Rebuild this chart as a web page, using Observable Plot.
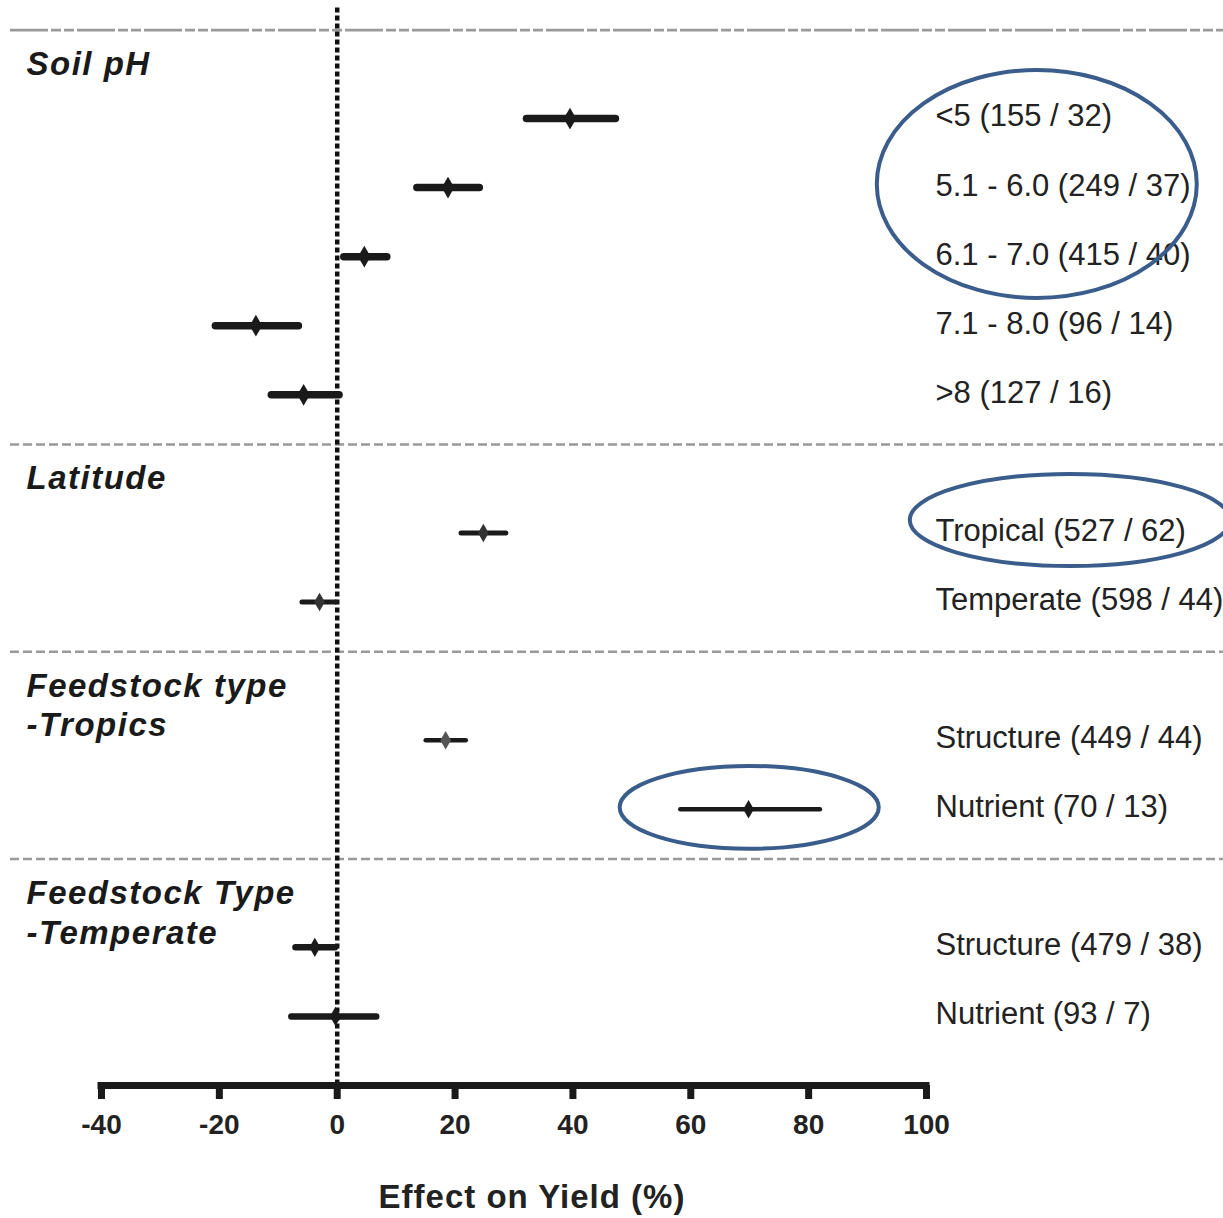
<!DOCTYPE html>
<html>
<head>
<meta charset="utf-8">
<script src="https://cdn.jsdelivr.net/npm/d3@7"></script>
<script src="https://cdn.jsdelivr.net/npm/@observablehq/plot@0.6"></script>
<style>
  html, body { margin: 0; padding: 0; background: #fff; }
  #chart svg { display: block; }
</style>
</head>
<body>
<div id="chart"></div>
<script>
// ---- data ----
const groups = ["Soil pH", "Latitude", "Feedstock type\n-Tropics", "Feedstock Type\n-Temperate"];
const categories = [
  "<5 (155 / 32)", "5.1 - 6.0 (249 / 37)", "6.1 - 7.0 (415 / 40)", "7.1 - 8.0 (96 / 14)", ">8 (127 / 16)",
  "Tropical (527 / 62)", "Temperate (598 / 44)",
  "Structure (449 / 44)", "Nutrient (70 / 13)",
  "Structure (479 / 38)", "Nutrient (93 / 7)"
];
const groupIndex = [0, 0, 0, 0, 0, 1, 1, 2, 2, 3, 3];
const means = [39.5, 18.8, 4.6, -13.8, -5.7, 24.8, -3.0, 18.4, 69.8, -3.8, -0.3];
const lower = [32.2, 13.6, 1.2, -20.6, -11.1, 21.1, -5.9, 15.1, 58.3, -7.0, -7.7];
const upper = [47.3, 24.2, 8.5, -6.5, 0.4, 28.7, -0.2, 21.9, 82.0, -0.3, 6.7];
const xTicks = [-40, -20, 0, 20, 40, 60, 80, 100];
const xDomain = [-40, 100];
const axisTitle = "Effect on Yield (%)";

// highlight ellipses (annotation), in data units: x value / row index
const ellipseCx = [118.8, 124.4, 70.0];
const ellipseCy = [0.955, 5.82, 9.98];
const ellipseRx = [27.15, 27.15, 21.98];
const ellipseRy = [1.65, 0.667, 0.60];

// ---- derived table ----
const rows = categories.map((c, i) => ({
  label: c,
  group: groupIndex[i],
  row: i + groupIndex[i],
  mean: means[i],
  lo: lower[i],
  hi: upper[i]
}));
const groupTable = groups.map((g, gi) => {
  const first = rows.find(r => r.group === gi).row;
  return {name: g, first};
});

// styles by group
const barWidth = [7.5, 5, 4.5, 6.5];
const dotR = [6.6, 5.6, 5.6, 5.8];
const dotFill = (d) => (d.group === 2 && d.row === 9) ? "#555" : (d.group === 1 ? "#333" : "#1a1a1a");

const FONT = "'Liberation Sans', Arial, Helvetica, sans-serif";

function ellipseMark(index, scales) {
  const g = d3.create("svg:g");
  ellipseCx.forEach((cx, i) => {
    const px = scales.x(cx), py = scales.y(ellipseCy[i]);
    const rx = Math.abs(scales.x(cx + ellipseRx[i]) - px);
    const ry = Math.abs(scales.y(ellipseCy[i] + ellipseRy[i]) - py);
    g.append("ellipse")
      .attr("cx", px).attr("cy", py).attr("rx", rx).attr("ry", ry)
      .attr("fill", "none").attr("stroke", "#3a5d8c").attr("stroke-width", 4);
  });
  return g.node();
}

const chart = Plot.plot({
  width: 1223,
  height: 1218,
  marginLeft: 10,
  marginRight: 0,
  marginTop: 7.5,
  marginBottom: 133,
  style: {fontFamily: FONT, background: "white", overflow: "visible"},
  x: {domain: xDomain, range: [101, 926], axis: null},
  y: {domain: [-1.6, 14], reverse: true, axis: null},
  r: {type: "identity"},
  marks: [
    // group separators
    Plot.ruleY(groupTable.filter((g, i) => i > 0), {y: d => d.first - 1.28, stroke: "#9a9a9a", strokeWidth: 2.6, strokeDasharray: "9,4"}),
    Plot.ruleY(groupTable.filter((g, i) => i === 0), {y: d => d.first - 1.28, stroke: "#9a9a9a", strokeWidth: 2.6, strokeDasharray: "38,3,10,3,10,3"}),
    // zero line
    Plot.ruleX([0], {stroke: "#111", strokeWidth: 4.5, strokeDasharray: "5,3"}),
    // x axis line
    Plot.ruleY([14], {x1: xDomain[0], x2: xDomain[1], stroke: "#1a1a1a", strokeWidth: 7, strokeLinecap: "square"}),
    Plot.axisX(xTicks, {
      anchor: "bottom", tickSize: 14, tickPadding: 15, strokeWidth: 7, stroke: "#1a1a1a",
      fontSize: 28, fontWeight: "bold", fill: "#222", tickFormat: d => String(d), label: null
    }),
    Plot.text([axisTitle], {frameAnchor: "bottom", x: (xDomain[0] + xDomain[1]) / 2, dx: 18, dy: 112, lineAnchor: "middle", fontSize: 33, fontWeight: "bold", fill: "#222"}),
    // error bars
    Plot.ruleY(rows, {y: "row", x1: "lo", x2: "hi", stroke: "#1a1a1a", strokeWidth: d => barWidth[d.group], strokeLinecap: "round"}),
    // means
    Plot.dot(rows, {x: "mean", y: "row", symbol: "diamond", r: d => dotR[d.group], fill: dotFill, stroke: null}),
    // right labels
    Plot.text(rows, {x: xDomain[1], y: "row", text: "label", textAnchor: "start", dx: 9, dy: -2, lineAnchor: "middle", fontSize: 31, fill: "#222"}),
    // group labels
    Plot.text(groupTable, {frameAnchor: "left", y: d => d.first - 0.97, text: "name", textAnchor: "start", lineAnchor: "top", dx: 16, dy: -5, fontSize: 33, fontWeight: "bold", fontStyle: "italic", lineHeight: 1.21, fill: "#1a1a1a"}),
    ellipseMark
  ]
});
// letter spacing for the wide-set italic group labels and the axis title
d3.select(chart).selectAll("g[font-style=italic] text").attr("letter-spacing", "1.5px");
d3.select(chart).selectAll("g[font-size='33'] text").filter(function() { return this.textContent === axisTitle; }).attr("letter-spacing", "1px");
document.getElementById("chart").append(chart);
</script>
</body>
</html>
